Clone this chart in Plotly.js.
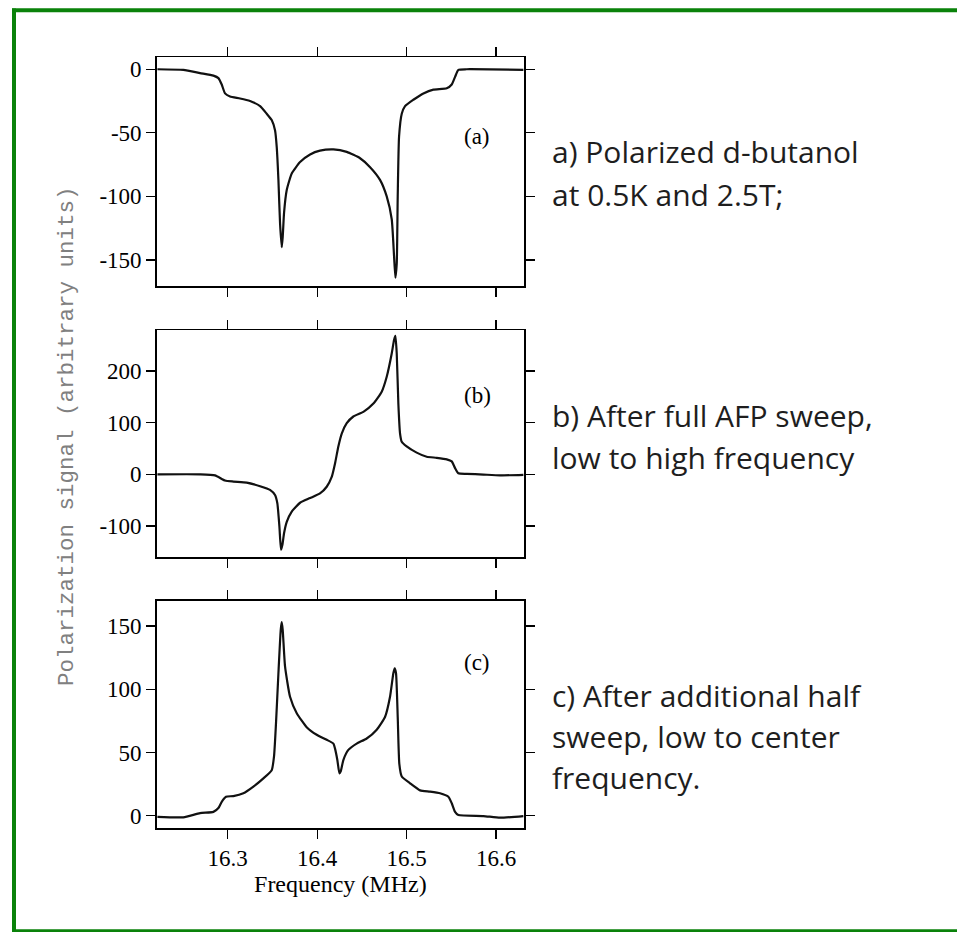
<!DOCTYPE html>
<html>
<head>
<meta charset="utf-8">
<script src="https://cdn.plot.ly/plotly-3.0.1.min.js"></script>
<style>html,body{margin:0;padding:0;background:#fff;}#chart{width:957px;height:932px;}</style>
</head>
<body>
<div id="chart"></div>
<script>
// ---- Panel (a): polarized d-butanol ----
const freqA = [16.2214, 16.2504, 16.2691, 16.2840, 16.2896, 16.2933, 16.2970, 16.3026, 16.3138, 16.3250, 16.3362, 16.3436, 16.3492, 16.3529, 16.3548, 16.3567, 16.3585, 16.3604, 16.3615, 16.3630, 16.3660, 16.3716, 16.3809, 16.3921, 16.4032, 16.4182, 16.4331, 16.4480, 16.4592, 16.4703, 16.4778, 16.4834, 16.4860, 16.4875, 16.4890, 16.4901, 16.4916, 16.4946, 16.4983, 16.5076, 16.5188, 16.5300, 16.5449, 16.5505, 16.5542, 16.5579, 16.5672, 16.6306];
const sigA = [0, -0.5, -3, -5, -7, -12, -19, -21.5, -23, -25, -29, -35, -40, -48, -61, -87, -121, -140, -132, -113, -95, -82, -73, -67, -64, -63, -65, -70, -77, -87, -100, -118, -147, -164, -153, -100, -53, -35, -29, -24, -19, -16, -15, -12, -6, -0.5, 0, -0.5];

// ---- Panel (b): after full AFP sweep ----
const freqB = [16.2214, 16.2691, 16.2858, 16.2970, 16.3063, 16.3212, 16.3362, 16.3473, 16.3529, 16.3555, 16.3578, 16.3596, 16.3611, 16.3630, 16.3660, 16.3716, 16.3809, 16.3921, 16.4032, 16.4107, 16.4163, 16.4200, 16.4237, 16.4275, 16.4331, 16.4405, 16.4517, 16.4629, 16.4722, 16.4778, 16.4834, 16.4860, 16.4875, 16.4890, 16.4908, 16.4927, 16.4946, 16.5001, 16.5113, 16.5225, 16.5337, 16.5449, 16.5505, 16.5542, 16.5579, 16.5672, 16.5859, 16.6045, 16.6306];
const sigB = [0, 0, -2, -12, -14, -16, -23, -30, -40, -56, -101, -146, -137, -114, -92, -72, -55, -46, -37, -24, -5, 21, 54, 79, 99, 112, 121, 137, 160, 189, 234, 260, 268, 234, 137, 79, 63, 54, 42, 34, 32, 29, 25, 12, 2, 1, -0.5, -2, -1];

// ---- Panel (c): after additional half sweep ----
const freqC = [16.2214, 16.2504, 16.2691, 16.2840, 16.2896, 16.2933, 16.2981, 16.3063, 16.3175, 16.3287, 16.3399, 16.3492, 16.3518, 16.3540, 16.3567, 16.3593, 16.3604, 16.3615, 16.3641, 16.3697, 16.3772, 16.3883, 16.3995, 16.4107, 16.4182, 16.4200, 16.4226, 16.4249, 16.4264, 16.4293, 16.4349, 16.4442, 16.4554, 16.4666, 16.4759, 16.4815, 16.4852, 16.4867, 16.4882, 16.4901, 16.4919, 16.4946, 16.5039, 16.5151, 16.5262, 16.5374, 16.5467, 16.5505, 16.5542, 16.5579, 16.5859, 16.6045, 16.6306];
const sigC = [-1, -1.3, 2, 3, 6, 11, 15, 15.5, 17.7, 23, 29.5, 36, 47, 73, 112.6, 147, 153, 147, 118, 94, 81, 70, 64, 60, 57, 53, 44, 33.5, 35, 44, 52, 57, 61, 68, 78, 94, 112.6, 116.5, 112.6, 78, 41, 31, 25.6, 20, 19, 17.7, 15, 9.8, 3, 0.5, -0.3, -1.6, -0.3];

// ---- Tick labels ----
const freqTicks = [16.3, 16.4, 16.5, 16.6];
const freqTickText = ["16.3", "16.4", "16.5", "16.6"];
const ticksA = [-150, -100, -50, 0];
const ticksAText = ["-150", "-100", "-50", "0"];
const ticksB = [-100, 0, 100, 200];
const ticksBText = ["-100", "0", "100", "200"];
const ticksC = [0, 50, 100, 150];
const ticksCText = ["0", "50", "100", "150"];

const panelLabels = ["(a)", "(b)", "(c)"];
const xTitle = "Frequency (MHz)";
const yTitle = "Polarization signal (arbitrary units)";
const captionLines = [
  ["a) Polarized d-butanol", "at 0.5K and 2.5T;"],
  ["b) After full AFP sweep,", "low to high frequency"],
  ["c) After additional half", "sweep, low to center", "frequency."]
];

const W = 957, H = 932;
const px = v => v / W;
const py = v => 1 - v / H;

const lineStyle = {color: '#111', width: 2.2, shape: 'spline', smoothing: 0.5};
const traces = [
  {x: freqA, y: sigA, xaxis: 'x', yaxis: 'y', mode: 'lines', line: lineStyle, hoverinfo: 'skip'},
  {x: freqB, y: sigB, xaxis: 'x2', yaxis: 'y2', mode: 'lines', line: lineStyle, hoverinfo: 'skip'},
  {x: freqC, y: sigC, xaxis: 'x3', yaxis: 'y3', mode: 'lines', line: lineStyle, hoverinfo: 'skip'}
];

const tickFont = {family: 'Liberation Serif', size: 23, color: '#000'};
const xRange = [16.2206, 16.6313];
const xDomain = [px(156.7), px(524)];

function xAx(anchor, showLabels) {
  return {
    domain: xDomain, range: xRange, anchor: anchor,
    tickmode: 'array', tickvals: freqTicks, ticktext: freqTickText,
    showticklabels: showLabels, ticks: 'outside', ticklen: 9, tickwidth: 1.2, tickcolor: '#000',
    mirror: 'allticks', showline: true, linecolor: '#000', linewidth: 1.5,
    showgrid: false, zeroline: false, tickfont: tickFont
  };
}
function yAx(anchor, dom, range, vals, text) {
  return {
    domain: dom, range: range, anchor: anchor,
    tickmode: 'array', tickvals: vals, ticktext: text,
    ticks: 'outside', ticklen: 9, tickwidth: 1.2, tickcolor: '#000',
    mirror: 'allticks', showline: true, linecolor: '#000', linewidth: 1.5,
    showgrid: false, zeroline: false, tickfont: tickFont
  };
}

const xa3 = xAx('y3', true);
xa3.title = {text: xTitle, font: {family: 'Liberation Serif', size: 24, color: '#000'}, standoff: 0};

const annotations = [];
const labelPos = [[477, 136], [477, 396], [477, 662]];
panelLabels.forEach((t, i) => annotations.push({
  text: t, xref: 'paper', yref: 'paper', x: px(labelPos[i][0]), y: py(labelPos[i][1]),
  xanchor: 'center', yanchor: 'middle', showarrow: false,
  font: {family: 'Liberation Serif', size: 23, color: '#000'}
}));
annotations.push({
  text: yTitle, xref: 'paper', yref: 'paper', x: px(67), y: py(436), textangle: -90,
  xanchor: 'center', yanchor: 'middle', showarrow: false,
  font: {family: 'Liberation Mono', size: 22.5, color: '#808080'}
});
const captionY = [[152, 195], [415, 457], [695, 736, 777]];
captionLines.forEach((lines, i) => lines.forEach((t, j) => annotations.push({
  text: t, xref: 'paper', yref: 'paper', x: px(550), y: py(captionY[i][j]),
  xanchor: 'left', yanchor: 'middle', showarrow: false,
  font: {family: 'Open Sans', size: 30, color: '#1e1e1e'}
})));

const green = '#0a820a';
const shapes = [
  {type: 'line', xref: 'paper', yref: 'paper', x0: px(14), x1: px(14), y0: py(8.5), y1: py(932), line: {color: green, width: 4}},
  {type: 'line', xref: 'paper', yref: 'paper', x0: px(12), x1: px(960), y0: py(10.3), y1: py(10.3), line: {color: green, width: 4}},
  {type: 'line', xref: 'paper', yref: 'paper', x0: px(12), x1: px(960), y0: py(930.7), y1: py(930.7), line: {color: green, width: 3}}
];

const layout = {
  width: W, height: H, margin: {l: 0, r: 0, t: 0, b: 0},
  paper_bgcolor: '#fff', plot_bgcolor: '#fff', showlegend: false,
  xaxis: xAx('y', false), xaxis2: xAx('y2', false), xaxis3: xa3,
  yaxis: yAx('x', [py(286), py(57.3)], [-170.5, 9.4], ticksA, ticksAText),
  yaxis2: yAx('x2', [py(557.3), py(330)], [-160.6, 279.4], ticksB, ticksBText),
  yaxis3: yAx('x3', [py(828), py(600.7)], [-9.75, 170], ticksC, ticksCText),
  annotations: annotations, shapes: shapes
};

Plotly.newPlot('chart', traces, layout, {displayModeBar: false, staticPlot: true});
</script>
</body>
</html>
